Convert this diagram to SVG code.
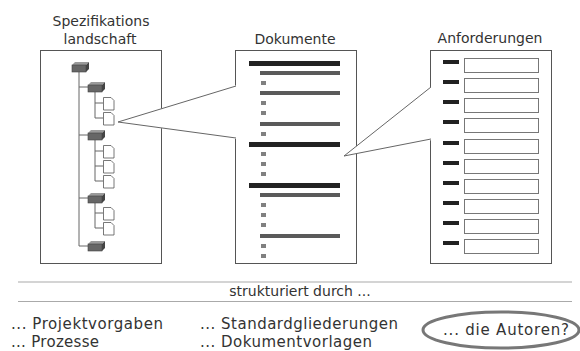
<svg xmlns="http://www.w3.org/2000/svg" xmlns:xlink="http://www.w3.org/1999/xlink" width="580" height="351" viewBox="0 0 580 351">
<style>
.t{font-family:"DejaVu Sans","Noto Sans",sans-serif;fill:#333;}
.title{font-size:14px;text-anchor:middle;}
.bt{font-size:15px;}
.panel{fill:#fff;stroke:#555;stroke-width:1;}
.tree{stroke:#666;stroke-width:1;fill:none;}
.blk{fill:#222;}
.gry{fill:#5a5a5a;}
.sq{fill:#808080;}
.req{fill:#fff;stroke:#777;stroke-width:1;}
.dash{fill:#222;}
.call{fill:none;stroke:#666;stroke-width:1;}
.rule{stroke:#aaa;stroke-width:1.2;}
</style>
<defs>
<g id="node">
<polygon points="0,3 3,0 17,0 14,3" fill="#9a9a9a"/>
<rect x="0" y="3" width="14" height="7" fill="#666" stroke="#444" stroke-width="0.6"/>
<polygon points="14,3 17,0 17,7 14,10" fill="#444"/>
</g>
<g id="doc">
<path d="M0.5,0.5 H8 L11,3.5 V13 H0.5 Z" fill="#fff" stroke="#555" stroke-width="0.8"/>
</g>
</defs>

<g id="spezifikationslandschaft">
<text class="t title" x="101" y="26">Spezifikations</text>
<text class="t title" x="100" y="44">landschaft</text>
<rect class="panel" x="40.5" y="50.5" width="121" height="213"/>
<g class="tree">
<path d="M79,70 V246 M79,87 H88 M79,135 H88 M79,198 H88 M79,246 H88"/>
<path d="M95,92 V118 M95,103 H103 M95,118 H103"/>
<path d="M95,140 V181 M95,151 H103 M95,166 H103 M95,181 H103"/>
<path d="M95,203 V228 M95,213 H103 M95,228 H103"/>
</g>
<use xlink:href="#node" x="72" y="62"/>
<use xlink:href="#node" x="88" y="82"/>
<use xlink:href="#node" x="88" y="130"/>
<use xlink:href="#node" x="88" y="193"/>
<use xlink:href="#node" x="88" y="241"/>
<use xlink:href="#doc" x="103" y="97"/>
<use xlink:href="#doc" x="103" y="112"/>
<use xlink:href="#doc" x="103" y="145"/>
<use xlink:href="#doc" x="103" y="160"/>
<use xlink:href="#doc" x="103" y="175"/>
<use xlink:href="#doc" x="103" y="207"/>
<use xlink:href="#doc" x="103" y="222"/>
</g>

<g id="dokumente">
<text class="t title" x="295" y="44">Dokumente</text>
<rect class="panel" x="235.5" y="50.5" width="121" height="213"/>
<rect class="blk" x="249" y="61" width="91" height="5"/>
<rect class="blk" x="249" y="142" width="91" height="5"/>
<rect class="blk" x="249" y="183" width="91" height="5"/>
<rect class="gry" x="260" y="71" width="80" height="4"/>
<rect class="gry" x="260" y="91" width="80" height="4"/>
<rect class="gry" x="260" y="122" width="80" height="4"/>
<rect class="gry" x="260" y="193" width="80" height="4"/>
<rect class="gry" x="260" y="234" width="80" height="4"/>
<rect class="sq" x="261" y="81" width="5" height="4"/>
<rect class="sq" x="261" y="101" width="5" height="4"/>
<rect class="sq" x="261" y="111" width="5" height="4"/>
<rect class="sq" x="261" y="132" width="5" height="4"/>
<rect class="sq" x="261" y="152" width="5" height="4"/>
<rect class="sq" x="261" y="162" width="5" height="4"/>
<rect class="sq" x="261" y="172" width="5" height="4"/>
<rect class="sq" x="261" y="203" width="5" height="4"/>
<rect class="sq" x="261" y="213" width="5" height="4"/>
<rect class="sq" x="261" y="223" width="5" height="4"/>
<rect class="sq" x="261" y="244" width="5" height="4"/>
<rect class="sq" x="261" y="254" width="5" height="4"/>
</g>

<g id="anforderungen">
<text class="t title" x="490" y="43">Anforderungen</text>
<rect class="panel" x="430.5" y="50.5" width="121" height="213"/>
<g>
<rect class="dash" x="443" y="60" width="16" height="4"/><rect class="req" x="464.5" y="58.5" width="74" height="14"/>
<rect class="dash" x="443" y="80" width="16" height="4"/><rect class="req" x="464.5" y="78.5" width="74" height="14"/>
<rect class="dash" x="443" y="100" width="16" height="4"/><rect class="req" x="464.5" y="98.5" width="74" height="14"/>
<rect class="dash" x="443" y="120" width="16" height="4"/><rect class="req" x="464.5" y="118.5" width="74" height="14"/>
<rect class="dash" x="443" y="141" width="16" height="4"/><rect class="req" x="464.5" y="139.5" width="74" height="14"/>
<rect class="dash" x="443" y="161" width="16" height="4"/><rect class="req" x="464.5" y="159.5" width="74" height="14"/>
<rect class="dash" x="443" y="181" width="16" height="4"/><rect class="req" x="464.5" y="179.5" width="74" height="14"/>
<rect class="dash" x="443" y="201" width="16" height="4"/><rect class="req" x="464.5" y="199.5" width="74" height="14"/>
<rect class="dash" x="443" y="221" width="16" height="4"/><rect class="req" x="464.5" y="219.5" width="74" height="14"/>
<rect class="dash" x="443" y="241" width="16" height="4"/><rect class="req" x="464.5" y="239.5" width="74" height="14"/>
</g>
</g>

<g id="connectors">
<polygon points="118,122 237,85 237,139" fill="#fff"/>
<path class="call" d="M236,86 L118,122 L236,138"/>
<polygon points="344,156 432,86 432,140" fill="#fff"/>
<path class="call" d="M431,87 L344,156 L431,139"/>
</g>

<g id="legend">
<line class="rule" x1="18" y1="282" x2="572" y2="282"/>
<line class="rule" x1="18" y1="301.5" x2="572" y2="301.5"/>
<text class="t" x="300" y="296" font-size="14" text-anchor="middle">strukturiert durch ...</text>
<text class="t bt" x="11" y="329" textLength="152">... Projektvorgaben</text>
<text class="t bt" x="11" y="347" textLength="88">... Prozesse</text>
<text class="t bt" x="200" y="329" textLength="198">... Standardgliederungen</text>
<text class="t bt" x="200" y="347" textLength="172">... Dokumentvorlagen</text>
</g>

<g id="autoren">
<ellipse cx="501" cy="330" rx="78" ry="18" fill="none" stroke="#777" stroke-width="3"/>
<text class="t bt" x="443" y="335" textLength="126">... die Autoren?</text>
</g>
</svg>
